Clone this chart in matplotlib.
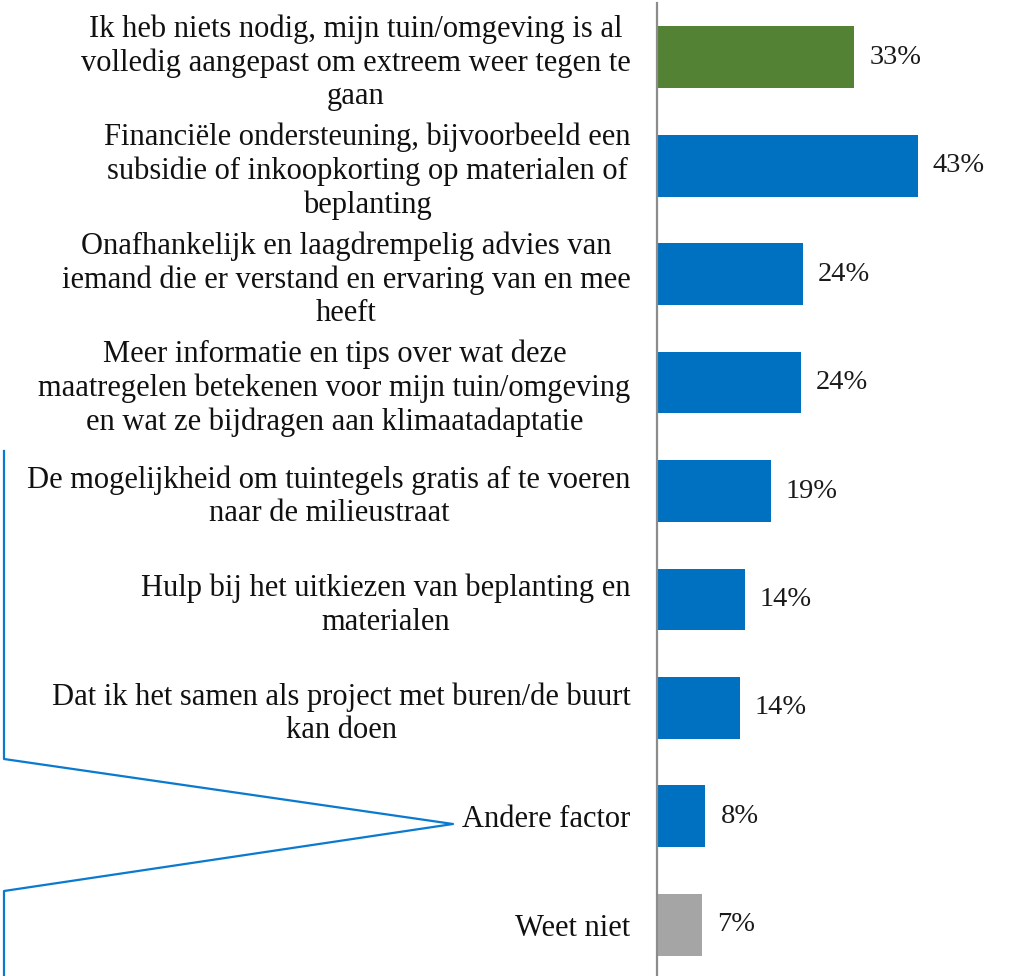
import matplotlib
matplotlib.use("Agg")
import matplotlib.pyplot as plt
from matplotlib.lines import Line2D

categories = [
    "Ik heb niets nodig, mijn tuin/omgeving is al\nvolledig aangepast om extreem weer tegen te\ngaan",
    "Financiële ondersteuning, bijvoorbeeld een\nsubsidie of inkoopkorting op materialen of\nbeplanting",
    "Onafhankelijk en laagdrempelig advies van\niemand die er verstand en ervaring van en mee\nheeft",
    "Meer informatie en tips over wat deze\nmaatregelen betekenen voor mijn tuin/omgeving\nen wat ze bijdragen aan klimaatadaptatie",
    "De mogelijkheid om tuintegels gratis af te voeren\nnaar de milieustraat",
    "Hulp bij het uitkiezen van beplanting en\nmaterialen",
    "Dat ik het samen als project met buren/de buurt\nkan doen",
    "Andere factor",
    "Weet niet",
]
values = [32.6, 43.1, 24.1, 23.8, 18.8, 14.5, 13.7, 8.0, 7.4]
colors = ["#548235", "#0070C0", "#0070C0", "#0070C0", "#0070C0",
          "#0070C0", "#0070C0", "#0070C0", "#A5A5A5"]

W, H = 1012, 976
plt.rcParams['font.family'] = ['Liberation Serif', 'DejaVu Serif']
fig = plt.figure(figsize=(W / 100, H / 100), dpi=100)
ax_left = 657 / W
ax_top = 3
ax_bottom = 979
ax = fig.add_axes([ax_left, 1 - ax_bottom / H, 1 - ax_left, (ax_bottom - ax_top) / H])

y = list(range(len(categories)))
ax.barh(y, values, height=0.57, color=colors)
ax.set_ylim(len(categories) - 0.5, -0.5)
ax.set_xlim(0, (W - 657) / 6.05)

for yi, v in zip(y, values):
    ax.text(v + 15 / 6.05, yi, f"{round(v)}%", va="center", ha="left",
            fontsize=20.5, color="#1a1a1a")

ax.set_yticks(y)
ax.set_yticklabels(categories, fontsize=22, multialignment="center", color="#111111",
                   linespacing=1.2)
ax.tick_params(axis="y", length=0, pad=19)
ax.set_xticks([])
for s in ["top", "right", "bottom"]:
    ax.spines[s].set_visible(False)
ax.spines["left"].set_color("#8c8c8c")
ax.spines["left"].set_linewidth(1.6)

# callout bracket
px = [4, 4, 453, 4, 4]
py = [451, 759, 824, 891, 976]
fig.add_artist(Line2D([p / W for p in px], [1 - q / H for q in py],
                      color="#0A7ACF", lw=1.6, transform=fig.transFigure))

fig.savefig("out.png", dpi=100)
